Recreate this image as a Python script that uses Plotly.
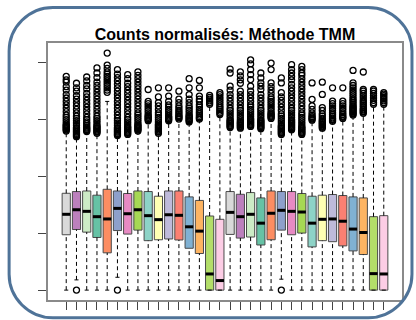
import plotly.graph_objects as go

W, H = 416, 320
ML, MR, MT, MB = 48, 13, 43, 17

title = "Counts normalisés: Méthode TMM"

palette16 = ["#D9D9D9", "#BC80BD", "#CCEBC5", "#66C2A5", "#FC8D62", "#8DA0CB", "#E78AC3", "#A6D854",
             "#8DD3C7", "#FFFFB3", "#BEBADA", "#FB8072", "#80B1D3", "#FDB462", "#B3DE69", "#FCCDE5"]
colors = palette16 * 2

samples = list(range(1, 33))
q3 = [8.52, 8.67, 8.72, 8.35, 8.87, 8.72, 8.50, 8.72, 8.67, 8.26, 8.72, 8.72, 8.20, 7.89, 6.52, 6.23,
      8.67, 8.43, 8.58, 8.11, 8.72, 8.67, 8.67, 8.50, 8.26, 8.35, 8.41, 8.32, 8.20, 8.11, 6.46, 6.55]
median = [6.67, 7.07, 6.93, 6.46, 6.26, 7.19, 6.72, 7.07, 6.55, 6.20, 6.63, 6.58, 5.57, 5.19, 1.42, 0.84,
          6.84, 6.46, 6.67, 5.89, 6.76, 7.02, 6.93, 6.87, 5.89, 6.23, 6.26, 6.06, 5.37, 5.07, 1.45, 1.42]
q1 = [4.87, 5.33, 5.10, 4.63, 3.28, 5.24, 4.93, 5.28, 4.35, 4.43, 4.50, 4.41, 3.68, 3.22, 0, 0,
      4.90, 4.58, 4.67, 3.97, 4.43, 5.28, 4.87, 5.02, 3.80, 4.35, 4.26, 3.89, 3.45, 3.13, 0, 0]
whisker_low = [0, 0.9, 0, 0, 0, 1.13, 0, 0, 0, 0, 0, 0, 0, 0, 0, 0,
               0, 0, 0, 0, 0, 0.96, 0, 0, 0, 0, 0, 0, 0, 0, 0, 0]
whisker_high = [13.9, 13.4, 13.85, 13.7, 16.6, 13.5, 13.6, 13.9, 14.8, 13.7, 14.8, 14.95, 14.7, 14.95, 16.2, 15.28,
                14.2, 14.15, 14.3, 14.1, 15.0, 13.6, 14.0, 13.6, 14.85, 14.15, 14.75, 15.0, 15.3, 15.45, 16.2, 16.2]

outliers = {
    1: [14.0, 14.1, 14.2, 14.3, 14.4, 14.5, 14.6, 14.8, 15.0, 15.2, 15.4, 15.7, 16.0, 16.3, 16.6, 16.9, 17.2, 17.6, 17.9, 18.3, 18.5, 18.8],
    2: [0, 13.5, 13.6, 13.7, 13.8, 13.9, 14.0, 14.1, 14.2, 14.3, 14.5, 14.7, 14.9, 15.1, 15.3, 15.6, 15.9, 16.2, 16.5, 16.8, 17.1, 17.5, 17.8, 18.2],
    3: [13.95, 14.05, 14.15, 14.25, 14.35, 14.5, 14.65, 14.8, 15.0, 15.2, 15.5, 15.8, 16.1, 16.4, 16.7, 17.0, 17.3, 17.7, 18.0, 18.4, 18.75],
    4: [13.8, 13.9, 14.0, 14.1, 14.2, 14.3, 14.4, 14.5, 14.7, 14.9, 15.1, 15.3, 15.6, 15.9, 16.2, 16.5, 16.8, 17.1, 17.4, 17.7, 18.0, 18.3, 18.7, 19.1, 19.55],
    5: [17.4, 17.6, 17.8, 18.0, 18.2, 18.4, 18.6, 18.8, 19.0, 19.2, 19.5, 19.8, 20.85],
    6: [0, 13.6, 13.7, 13.8, 13.9, 14.0, 14.1, 14.2, 14.3, 14.5, 14.7, 14.9, 15.1, 15.4, 15.7, 16.0, 16.3, 16.6, 16.9, 17.2, 17.5, 17.8, 18.1, 18.4, 18.7, 19.0, 19.4],
    7: [13.7, 13.8, 13.9, 14.0, 14.1, 14.2, 14.3, 14.4, 14.6, 14.8, 15.0, 15.2, 15.5, 15.8, 16.1, 16.4, 16.7, 17.0, 17.3, 17.6, 17.9, 18.2, 18.6, 18.95],
    8: [14.0, 14.1, 14.2, 14.3, 14.4, 14.5, 14.6, 14.8, 15.0, 15.2, 15.4, 15.6, 15.9, 16.2, 16.5, 16.8, 17.1, 17.4, 17.7, 18.0, 18.3, 18.6, 18.9, 19.2],
    9: [14.9, 15.0, 15.1, 15.2, 15.3, 15.4, 15.6, 15.8, 16.0, 16.2, 16.4, 16.6, 17.65],
    10: [13.8, 13.9, 14.0, 14.1, 14.2, 14.3, 14.4, 14.5, 14.6, 14.8, 15.0, 15.2, 15.4, 15.6, 15.9, 16.2, 16.5, 17.0, 17.8],
    11: [14.9, 15.0, 15.1, 15.2, 15.3, 15.5, 15.7, 15.9, 16.1, 16.3, 16.6, 17.07, 17.8],
    12: [15.05, 15.15, 15.25, 15.35, 15.5, 15.65, 15.8, 16.0, 16.2, 16.5, 16.8, 17.5],
    13: [14.8, 14.9, 15.0, 15.1, 15.2, 15.3, 15.4, 15.6, 15.8, 16.0, 16.2, 16.5, 16.8, 17.2, 17.8, 18.6],
    14: [15.05, 15.15, 15.25, 15.4, 15.55, 15.7, 15.9, 16.1, 16.3, 16.6, 16.8, 17.07, 17.8, 18.45],
    15: [16.35, 16.5, 16.65, 16.8, 16.95, 17.13],
    16: [15.45, 15.6, 15.75, 15.9, 16.05, 16.2, 16.4, 16.6, 16.8, 17.0, 17.2, 17.37],
    17: [14.3, 14.4, 14.5, 14.6, 14.7, 14.8, 14.9, 15.0, 15.2, 15.4, 15.6, 15.8, 16.0, 16.3, 16.6, 16.9, 17.2, 17.6, 17.94, 19.1, 19.45],
    18: [14.25, 14.35, 14.45, 14.55, 14.65, 14.75, 14.85, 15.0, 15.2, 15.4, 15.6, 15.8, 16.0, 16.3, 16.6, 16.9, 17.2, 17.5, 18.2, 18.5, 18.85, 19.2],
    19: [14.4, 14.5, 14.6, 14.7, 14.8, 14.9, 15.0, 15.1, 15.3, 15.5, 15.7, 15.9, 16.1, 16.3, 16.6, 16.9, 17.2, 17.5, 17.94, 18.52, 18.96, 19.4, 19.9, 20.26],
    20: [14.2, 14.3, 14.4, 14.5, 14.6, 14.7, 14.8, 14.9, 15.0, 15.2, 15.4, 15.6, 15.8, 16.0, 16.3, 16.6, 16.9, 17.2, 17.65, 17.95, 18.23, 18.67, 19.1],
    21: [15.1, 15.2, 15.3, 15.4, 15.5, 15.6, 15.8, 16.0, 16.2, 16.4, 16.6, 16.8, 17.0, 17.3, 17.6, 17.9, 18.23, 19.4, 19.97],
    22: [0, 13.7, 13.8, 13.9, 14.0, 14.1, 14.2, 14.3, 14.4, 14.5, 14.7, 14.9, 15.1, 15.3, 15.5, 15.8, 16.1, 16.4, 16.7, 17.0, 17.37, 18.23, 18.67],
    23: [14.1, 14.2, 14.3, 14.4, 14.5, 14.6, 14.7, 14.8, 14.9, 15.0, 15.2, 15.4, 15.6, 15.8, 16.0, 16.3, 16.6, 16.9, 17.2, 17.5, 17.8, 18.1, 18.5, 18.8, 19.1, 19.4, 19.83],
    24: [13.7, 13.8, 13.9, 14.0, 14.1, 14.2, 14.3, 14.4, 14.6, 14.8, 15.0, 15.2, 15.4, 15.6, 15.9, 16.2, 16.5, 16.8, 17.1, 17.4, 17.7, 18.0, 18.3, 18.6, 18.9, 19.1, 19.4, 19.68],
    25: [14.95, 15.05, 15.15, 15.25, 15.4, 15.6, 15.9, 16.2, 16.78, 18.23],
    26: [14.25, 14.35, 14.45, 14.55, 14.65, 14.75, 14.85, 14.95, 15.1, 15.3, 15.5, 15.8, 16.06, 17.22, 18.29],
    27: [14.85, 14.95, 15.05, 15.15, 15.3, 15.45, 15.6, 15.8, 16.0, 16.2, 16.4, 16.63, 17.8],
    28: [15.1, 15.2, 15.3, 15.45, 15.6, 15.8, 16.0, 16.2, 16.4, 16.63, 17.8],
    29: [15.4, 15.5, 15.6, 15.7, 15.8, 15.9, 16.0, 16.1, 16.2, 16.35, 16.5, 16.65, 16.8, 17.0, 17.2, 17.4, 17.6, 17.8, 18.0, 18.23, 19.33],
    30: [15.55, 15.65, 15.75, 15.85, 15.95, 16.1, 16.25, 16.4, 16.55, 16.7, 16.9, 17.1, 17.3, 17.5, 17.65, 19.19],
    31: [16.35, 16.5, 16.7, 16.9, 17.1, 17.3, 17.5, 17.65],
    32: [16.35, 16.5, 16.65, 16.8, 16.95, 17.1, 17.25, 17.37],
}

y_ticks = [0, 5, 10, 15, 20]

BOXW = 0.8
STAPLE = 0.4

fig = go.Figure()

# whiskers (dashed)
wx, wy = [], []
for s, lo, a, b, hi in zip(samples, whisker_low, q1, q3, whisker_high):
    wx += [s, s, None, s, s, None]
    wy += [b, hi, None, lo, a, None]
fig.add_trace(go.Scatter(x=wx, y=wy, mode="lines", line=dict(color="black", width=1, dash="4px,3px"),
                         hoverinfo="skip", showlegend=False))

# staples
sx, sy = [], []
for s, lo, hi in zip(samples, whisker_low, whisker_high):
    sx += [s - STAPLE / 2, s + STAPLE / 2, None, s - STAPLE / 2, s + STAPLE / 2, None]
    sy += [hi, hi, None, lo, lo, None]
fig.add_trace(go.Scatter(x=sx, y=sy, mode="lines", line=dict(color="black", width=1),
                         hoverinfo="skip", showlegend=False))

# boxes
fig.add_trace(go.Bar(x=samples, y=[b - a for a, b in zip(q1, q3)], base=q1, width=BOXW,
                     marker=dict(color=colors, line=dict(color="#4a4a4a", width=1)),
                     showlegend=False))

# medians
mx, my = [], []
for s, m in zip(samples, median):
    mx += [s - BOXW / 2, s + BOXW / 2, None]
    my += [m, m, None]
fig.add_trace(go.Scatter(x=mx, y=my, mode="lines", line=dict(color="black", width=3),
                         hoverinfo="skip", showlegend=False))

# outliers
ox, oy = [], []
for s in samples:
    for v in outliers[s]:
        ox.append(s)
        oy.append(v)
fig.add_trace(go.Scatter(x=ox, y=oy, mode="markers",
                         marker=dict(symbol="circle-open", size=6, color="black", line=dict(width=1.3)),
                         showlegend=False))


def px(x):
    return (x - ML) / (W - ML - MR)


def py(y):
    return (H - MB - y) / (H - MT - MB)


x0, y0, x1, y1, r = 9, 7, 413, 321, 44
c = 0.55 * r
path = (f"M {px(x0 + r)},{py(y0)} L {px(x1 - r)},{py(y0)} "
        f"C {px(x1 - r + c)},{py(y0)} {px(x1)},{py(y0 + r - c)} {px(x1)},{py(y0 + r)} "
        f"L {px(x1)},{py(y1 - r)} "
        f"C {px(x1)},{py(y1 - r + c)} {px(x1 - r + c)},{py(y1)} {px(x1 - r)},{py(y1)} "
        f"L {px(x0 + r)},{py(y1)} "
        f"C {px(x0 + r - c)},{py(y1)} {px(x0)},{py(y1 - r + c)} {px(x0)},{py(y1 - r)} "
        f"L {px(x0)},{py(y0 + r)} "
        f"C {px(x0)},{py(y0 + r - c)} {px(x0 + r - c)},{py(y0)} {px(x0 + r)},{py(y0)} Z")

fig.update_layout(
    width=W, height=H,
    margin=dict(l=ML, r=MR, t=MT, b=MB),
    paper_bgcolor="white", plot_bgcolor="white",
    font=dict(family="Liberation Sans, Arial, sans-serif", color="black"),
    title=dict(text=title, x=0.5, xref="paper", xanchor="center",
               y=1 - 34 / H, yref="container", yanchor="middle",
               font=dict(size=16, weight="bold", color="black")),
    xaxis=dict(range=[-0.78, 33.78], tickvals=samples, showticklabels=False, ticks="outside",
               ticklen=8, tickcolor="#444", tickwidth=1, showgrid=False, zeroline=False,
               showline=True, linecolor="#8a8a8a", linewidth=1.5, mirror=True),
    yaxis=dict(range=[-0.87, 21.74], tickvals=y_ticks, showticklabels=False, ticks="outside",
               ticklen=8, tickcolor="#444", tickwidth=1, showgrid=False, zeroline=False,
               showline=True, linecolor="#8a8a8a", linewidth=1.5, mirror=True),
    shapes=[dict(type="path", xref="paper", yref="paper", path=path,
                 line=dict(color="#4f7398", width=3), layer="above")],
)

fig.write_html("out.html")
